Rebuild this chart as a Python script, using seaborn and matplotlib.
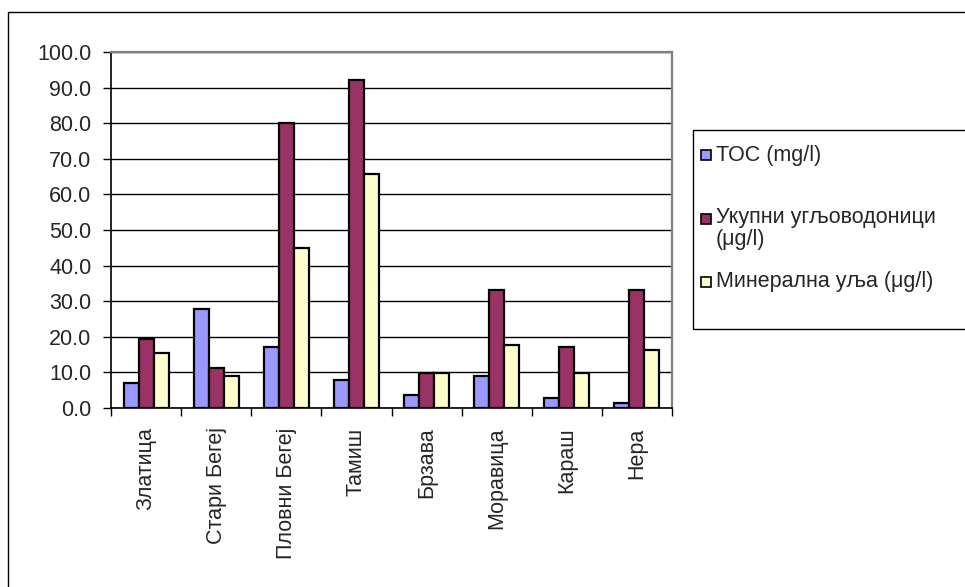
import numpy as np
import pandas as pd
import seaborn as sns
import matplotlib.pyplot as plt
from matplotlib.patches import Rectangle
from matplotlib.ticker import FormatStrFormatter, MultipleLocator

# river sampling sites
sites = ['Златица', 'Стари Бегеј', 'Пловни Бегеј', 'Тамиш',
         'Брзава', 'Моравица', 'Караш', 'Нера']
series_names = ['ТОС (mg/l)', 'Укупни угљоводоници\n(μg/l)', 'Минерална уља (μg/l)']
toc = [7.0, 27.8, 17.2, 8.0, 3.6, 9.0, 2.7, 1.3]
total_hc = [19.4, 11.2, 80.0, 92.0, 9.7, 33.1, 17.2, 33.1]
mineral_oil = [15.5, 9.0, 45.0, 65.8, 9.7, 17.7, 9.7, 16.3]
colors = ['#9999FF', '#993366', '#FFFFCC']

df = pd.DataFrame({
    'site': sites * 3,
    'series': np.repeat(series_names, len(sites)),
    'value': toc + total_hc + mineral_oil,
})

sns.set_style('white')
plt.rcParams['font.family'] = ['Liberation Sans', 'DejaVu Sans']
FS = 15.5
W, H = 965, 587

fig = plt.figure(figsize=(9.65, 5.87), dpi=100)
ax = fig.add_axes([111 / W, 1 - 408 / H, 561 / W, 356 / H])

# outer chart frame (runs off the right and bottom edges)
fig.patches.append(Rectangle((8 / W, -0.02), 1.0, 1 - 12 / H + 0.02,
                             transform=fig.transFigure, fill=False,
                             edgecolor='black', linewidth=1.0))

sns.barplot(data=df, x='site', y='value', hue='series', palette=colors,
            width=0.64, edgecolor='black', linewidth=1.6, ax=ax,
            legend=False, saturation=1)

ax.set_ylim(0, 100)
ax.set_xlim(-0.5, len(sites) - 0.5)
ax.yaxis.set_major_locator(MultipleLocator(10))
ax.yaxis.set_major_formatter(FormatStrFormatter('%.1f'))
ax.grid(axis='y', color='black', linewidth=1.0)
ax.set_axisbelow(True)
ax.set_xlabel('')
ax.set_ylabel('')

# ticks at category boundaries, labels at centres
ax.set_xticks(np.arange(len(sites)))
ax.set_xticklabels(sites, rotation=90, fontsize=FS)
ax.set_xticks(np.arange(len(sites) + 1) - 0.5, minor=True)
ax.tick_params(axis='x', which='major', length=0, pad=14)
ax.tick_params(axis='x', which='minor', length=6, width=1, color='black',
               direction='out', bottom=True)
ax.tick_params(axis='y', length=6, width=1, color='black', direction='out',
               left=True, labelsize=FS, pad=8)

for side in ['left', 'bottom']:
    ax.spines[side].set_color('black')
    ax.spines[side].set_linewidth(1.2)
for side in ['top', 'right']:
    ax.spines[side].set_color('#808080')
    ax.spines[side].set_linewidth(1.6)

# legend box, drawn by hand to match the uneven entry spacing
fig.patches.append(Rectangle((693 / W, 1 - 329 / H), 0.5, 199 / H,
                             transform=fig.transFigure, fill=False,
                             edgecolor='black', linewidth=1.0))
handle_y = [155, 219, 282]
text_y = [155, 228.5, 282]
for c, name, hy, ty in zip(colors, series_names, handle_y, text_y):
    fig.patches.append(Rectangle((701 / W, 1 - (hy + 5) / H), 10 / W, 10 / H,
                                 transform=fig.transFigure, facecolor=c,
                                 edgecolor='black', linewidth=1.2))
    fig.text(716 / W, 1 - ty / H, name, fontsize=FS, va='center', ha='left',
             linespacing=1.0)

fig.savefig('out.png', dpi=100)
